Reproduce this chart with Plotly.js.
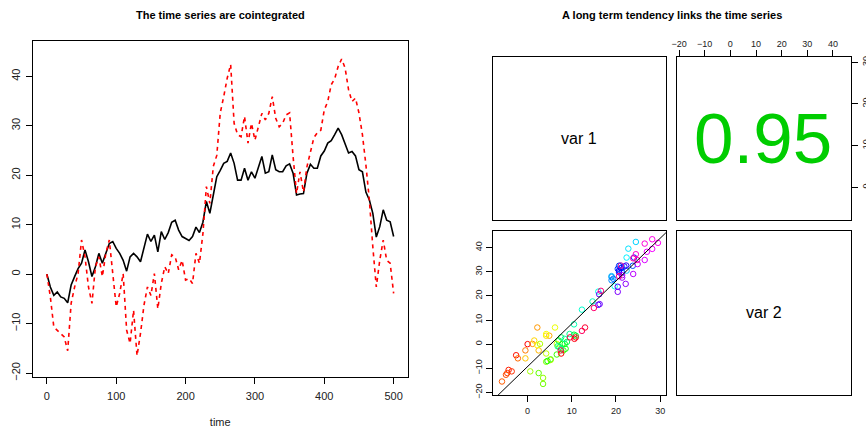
<!DOCTYPE html>
<html>
<head>
<meta charset="utf-8">
<script src="https://cdn.plot.ly/plotly-3.0.1.min.js"></script>
<style>
  html, body { margin: 0; padding: 0; background: #ffffff; }
  #chart { width: 866px; height: 431px; }
</style>
</head>
<body>
<div id="chart"></div>
<script>
// ---- data ----
const time = [0,5,10,15,20,25,30,35,40,45,
  50,55,60,65,70,75,80,85,90,95,
  100,105,110,115,120,125,130,135,140,145,
  150,155,160,165,170,175,180,185,190,195,
  200,205,210,215,220,225,230,235,240,245,
  250,255,260,265,270,275,280,285,290,295,
  300,305,310,315,320,325,330,335,340,345,
  350,355,360,365,370,375,380,385,390,395,
  400,405,410,415,420,425,430,435,440,445,
  450,455,460,465,470,475,480,485,490,495,
  500];
const var1 = [0,-2.6,-4.3,-3.6,-4.6,-4.9,-5.8,-2.2,-0.5,1.1,
  2.2,4.9,2.5,-0.5,1.5,4.2,2.2,4.2,6.2,6.6,
  5.2,4.2,2.8,0.6,3.5,4.2,3.5,2.5,5.2,8.1,
  6.6,7.9,4.5,8.6,7.0,8.4,10.5,10.9,8.9,7.6,
  7.2,6.8,7.6,9.5,8.4,10.5,14.7,12.3,16.0,19.7,
  21.0,22.4,22.8,24.5,22.4,19.0,19.0,21.4,19.0,20.7,
  19.4,21.4,23.8,20.4,20.7,24.1,21.1,20.7,20.7,21.9,
  22.3,20.4,16.0,16.2,16.3,20.4,22.2,21.4,21.4,23.9,
  24.9,26.5,27.0,28.2,29.5,28.2,26.5,24.5,24.8,23.9,
  21.1,20.7,16.6,15.0,12.3,7.5,9.6,13.0,10.9,10.6,
  7.6];
const var2 = [0,-4.6,-10.7,-11.3,-12,-12.7,-15.5,-5.9,-2.6,0.1,
  6.9,3.5,-2.6,-5.9,1.5,3.5,-0.5,4.2,6.9,0.1,
  -6.6,-3.9,0.1,-11.3,-14,-7.3,-16.5,-12,-6.3,-2.6,
  -4.3,0.1,-7,-1.9,1.5,0.1,3.9,3.5,0.9,2.8,
  -1.2,-0.9,-1.9,4.2,2.2,8.2,17.7,14.3,21.8,24,
  32.6,35.9,39.6,42.4,30.5,28.2,27.8,31.9,26.5,30.5,
  27.1,29.8,32.5,31.2,32.5,35.9,31.5,29.8,30.5,32.2,
  32.6,23.8,16.3,20.7,16.6,21.7,25,27.6,28.6,29.1,
  33.2,34.9,38.3,39.5,42.0,43.5,41.7,37.3,34.9,35.6,
  32.6,28.2,22.1,15.0,5.5,-2.6,2.8,6.9,2.8,2.2,
  -3.9];
const nObs = 501;               // length of the original series (colour scale)
const corrText = "0.95";
const panelLabels = ["var 1", "var 2"];
const titleLeft = "The time series are cointegrated";
const titleRight = "A long term tendency links the time series";
const xTitle = "time";
const timeTicks = [0,100,200,300,400,500];
const valTicks = [-20,-10,0,10,20,30,40];
const valTickText = ["\u221220","\u221210","0","10","20","30","40"];
const var1Ticks = [0,10,20,30];

// ---- derived ----
const colors = time.map(t => `hsl(${(360 * t / nObs).toFixed(1)},100%,50%)`);
function ols(x, y) {
  const n = x.length;
  const mx = x.reduce((a, b) => a + b, 0) / n;
  const my = y.reduce((a, b) => a + b, 0) / n;
  let sxy = 0, sxx = 0;
  for (let i = 0; i < n; i++) { sxy += (x[i] - mx) * (y[i] - my); sxx += (x[i] - mx) ** 2; }
  const b = sxy / sxx;
  return { a: my - b * mx, b: b };
}
const fit = ols(var1, var2);
const var1Range = [-7.9, 31.3];
const lineX = [var1Range[0] - 5, var1Range[1] + 5];
const lineY = lineX.map(x => fit.a + fit.b * x);

const W = 866, H = 431;
const fx = p => p / W;
const fy = p => 1 - p / H;
const FONT = "Liberation Sans, Arial, Helvetica, sans-serif";

// empty traces so that the panels without marks get their own subplot
const emptyPanel = (xa, ya) => ({ x: [], y: [], xaxis: xa, yaxis: ya, type: 'scatter',
  mode: 'markers', hoverinfo: 'skip' });

const traces = [
  { x: time, y: var1, xaxis: 'x', yaxis: 'y', type: 'scatter', mode: 'lines',
    line: { color: '#000000', width: 1.6 }, hoverinfo: 'skip' },
  { x: time, y: var2, xaxis: 'x', yaxis: 'y', type: 'scatter', mode: 'lines',
    line: { color: '#ff0000', width: 1.6, dash: '4px,4px' }, hoverinfo: 'skip' },
  emptyPanel('x2', 'y2'),
  emptyPanel('x3', 'y3'),
  { x: var1, y: var2, xaxis: 'x4', yaxis: 'y4', type: 'scatter', mode: 'markers',
    marker: { symbol: 'circle-open', size: 5.5, color: colors, line: { width: 1, color: colors } },
    hoverinfo: 'skip' },
  { x: lineX, y: lineY, xaxis: 'x4', yaxis: 'y4', type: 'scatter', mode: 'lines',
    line: { color: '#000000', width: 1 }, hoverinfo: 'skip' },
  emptyPanel('x5', 'y5')
];

const boxAxis = {
  showline: true, mirror: true, linecolor: '#000000', linewidth: 1,
  showgrid: false, zeroline: false, fixedrange: true
};
const noTicks = Object.assign({}, boxAxis, { showticklabels: false, ticks: '' });

const layout = {
  width: W, height: H,
  margin: { l: 0, r: 0, t: 0, b: 0, pad: 0 },
  paper_bgcolor: '#ffffff', plot_bgcolor: '#ffffff',
  showlegend: false,
  font: { family: FONT, color: '#000000', size: 11 },
  xaxis: Object.assign({}, boxAxis, {
    domain: [fx(33), fx(407.5)], range: [-20, 520], anchor: 'y',
    tickmode: 'array', tickvals: timeTicks, ticks: 'outside', ticklen: 6, tickcolor: '#000',
    ticklabelstandoff: 3,
    tickfont: { size: 11, color: '#222' },
    title: { text: xTitle, font: { size: 11, color: '#222' }, standoff: 17 }
  }),
  yaxis: Object.assign({}, boxAxis, {
    domain: [fy(377), fy(40.7)], range: [-20.8, 47.2], anchor: 'x',
    tickmode: 'array', tickvals: valTicks, ticktext: valTickText, ticks: 'outside', ticklen: 6, tickcolor: '#000',
    ticklabelstandoff: 2,
    tickangle: -90, tickfont: { size: 11, color: '#222' }
  }),
  // top-left: var 1 label panel
  xaxis2: Object.assign({}, noTicks, { domain: [fx(492.7), fx(665.9)], range: [0, 1], anchor: 'y2' }),
  yaxis2: Object.assign({}, noTicks, { domain: [fy(220.3), fy(56.7)], range: [0, 1], anchor: 'x2' }),
  // top-right: correlation panel
  xaxis3: Object.assign({}, boxAxis, {
    domain: [fx(677), fx(851.2)], range: [-20.8, 47.1], anchor: 'y3', side: 'top',
    tickmode: 'array', tickvals: valTicks, ticktext: valTickText, ticks: 'outside', ticklen: 5.5, tickcolor: '#000',
    tickfont: { size: 9, color: '#222' }
  }),
  yaxis3: Object.assign({}, boxAxis, {
    domain: [fy(220.3), fy(56.7)], range: [-7.92, 31.34], anchor: 'x3', side: 'right',
    tickmode: 'array', tickvals: var1Ticks, ticks: 'outside', ticklen: 5.5, tickcolor: '#000',
    tickangle: -90, tickfont: { size: 9, color: '#222' }
  }),
  // bottom-left: scatter
  xaxis4: Object.assign({}, boxAxis, {
    domain: [fx(492.7), fx(665.9)], range: var1Range, anchor: 'y4',
    tickmode: 'array', tickvals: var1Ticks, ticks: 'outside', ticklen: 5.5, tickcolor: '#000',
    ticklabelstandoff: 2,
    tickfont: { size: 9, color: '#222' }
  }),
  yaxis4: Object.assign({}, boxAxis, {
    domain: [fy(395), fy(230.7)], range: [-21.1, 47.05], anchor: 'x4',
    tickmode: 'array', tickvals: valTicks, ticktext: valTickText, ticks: 'outside', ticklen: 5.5, tickcolor: '#000',
    ticklabelstandoff: 1,
    tickangle: -90, tickfont: { size: 9, color: '#222' }
  }),
  // bottom-right: var 2 label panel
  xaxis5: Object.assign({}, noTicks, { domain: [fx(677), fx(851.2)], range: [0, 1], anchor: 'y5' }),
  yaxis5: Object.assign({}, noTicks, { domain: [fy(395), fy(230.7)], range: [0, 1], anchor: 'x5' }),
  annotations: [
    { text: '<b>' + titleLeft + '</b>', xref: 'paper', yref: 'paper', x: fx(220.5), y: fy(15),
      xanchor: 'center', yanchor: 'middle', showarrow: false, font: { size: 11, color: '#000' } },
    { text: '<b>' + titleRight + '</b>', xref: 'paper', yref: 'paper', x: fx(671.7), y: fy(15),
      xanchor: 'center', yanchor: 'middle', showarrow: false, font: { size: 11, color: '#000' } },
    { text: panelLabels[0], xref: 'x2 domain', yref: 'y2 domain', x: 0.5, y: 0.5,
      xanchor: 'center', yanchor: 'middle', showarrow: false, font: { size: 16, color: '#000' } },
    { text: panelLabels[1], xref: 'x5 domain', yref: 'y5 domain', x: 0.5, y: 0.5,
      xanchor: 'center', yanchor: 'middle', showarrow: false, font: { size: 16, color: '#000' } },
    { text: corrText, xref: 'x3 domain', yref: 'y3 domain', x: 0.495, y: 0.5,
      xanchor: 'center', yanchor: 'middle', showarrow: false, font: { size: 71, color: '#00cd00' } }
  ]
};

Plotly.newPlot('chart', traces, layout, { staticPlot: true, displayModeBar: false });
</script>
</body>
</html>
